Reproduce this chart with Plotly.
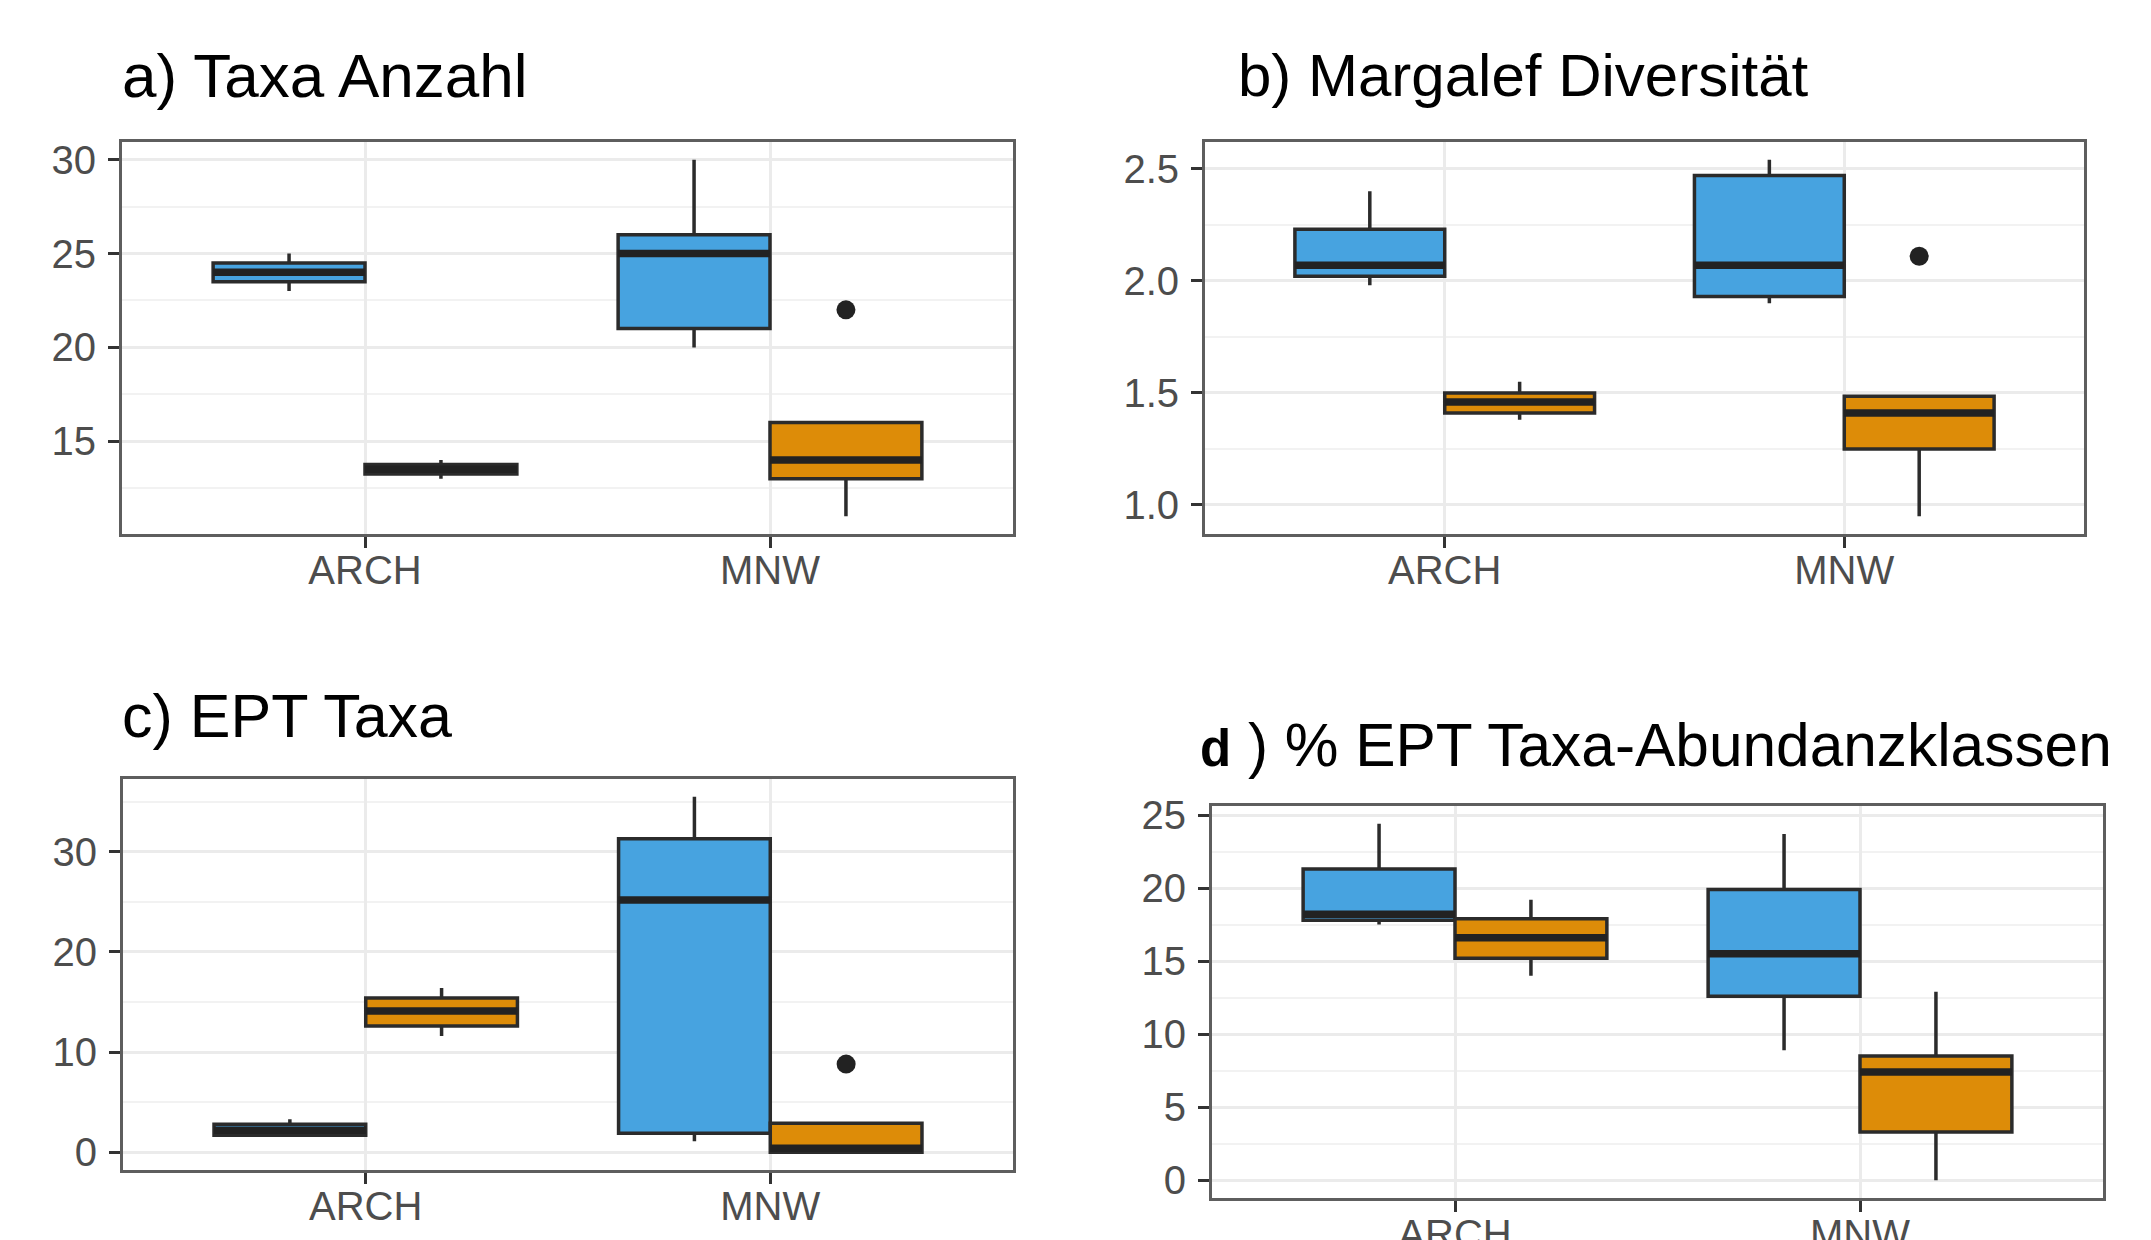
import plotly.graph_objects as go

# ---------------- data ----------------
categories = ["ARCH", "MNW"]
cat_pos = [1, 2]

# five-number summaries per category (ARCH, MNW): low whisker, q1, median, q3, high whisker
# a) Taxa Anzahl
a_blue = {"low": [23.0, 20.0], "q1": [23.5, 21.0], "med": [24.0, 25.0], "q3": [24.5, 26.0], "high": [25.0, 30.0]}
a_orange = {"low": [13.0, 11.0], "q1": [13.25, 13.0], "med": [13.5, 14.0], "q3": [13.75, 16.0], "high": [14.0, 16.0]}
a_blue_out = []
a_orange_out = [("MNW", 22.0)]

# b) Margalef Diversität
b_blue = {"low": [1.98, 1.90], "q1": [2.02, 1.93], "med": [2.07, 2.07], "q3": [2.23, 2.47], "high": [2.40, 2.54]}
b_orange = {"low": [1.38, 0.95], "q1": [1.41, 1.25], "med": [1.46, 1.41], "q3": [1.50, 1.485], "high": [1.55, 1.485]}
b_blue_out = []
b_orange_out = [("MNW", 2.11)]

# c) EPT Taxa
c_blue = {"low": [1.6, 1.1], "q1": [1.7, 1.9], "med": [2.2, 25.2], "q3": [2.8, 31.3], "high": [3.3, 35.5]}
c_orange = {"low": [11.6, 0.0], "q1": [12.6, 0.0], "med": [14.1, 0.4], "q3": [15.4, 2.9], "high": [16.4, 2.9]}
c_blue_out = []
c_orange_out = [("MNW", 8.8)]

# d) % EPT Taxa-Abundanzklassen
d_blue = {"low": [17.5, 8.9], "q1": [17.8, 12.6], "med": [18.2, 15.5], "q3": [21.3, 19.9], "high": [24.4, 23.7]}
d_orange = {"low": [14.0, 0.0], "q1": [15.2, 3.3], "med": [16.6, 7.4], "q3": [17.9, 8.5], "high": [19.2, 12.9]}
d_blue_out = []
d_orange_out = []

titles = ["a) Taxa Anzahl", "b) Margalef Diversität", "c) EPT Taxa",
          "<span style='font-size:51px'><b>d</b></span> ) % EPT Taxa-Abundanzklassen"]
y_dticks = [5, 0.5, 10, 5]
y_formats = ["d", ".1f", "d", "d"]

# ---------------- style ----------------
W, H = 2151, 1240
OFF = 8  # the page body adds an 8px margin; compensate so the picture lines up
BLUE = "#47A3E0"
ORANGE = "#DD8C08"
DARK = "#2B2B2B"
FONT = "Liberation Sans, Arial, sans-serif"

# panel pixel boxes in the picture: (left, right, top, bottom)
panel_px = [(122, 1013, 142, 534), (1205, 2084, 142, 534),
            (123, 1013, 779, 1170), (1212, 2103, 806, 1198)]
title_px = [(120, 76), (1236, 76), (120, 716), (1198, 745)]
title_sizes = [62, 60, 61, 60.4]

panels = [(a_blue, a_orange, a_blue_out, a_orange_out),
          (b_blue, b_orange, b_blue_out, b_orange_out),
          (c_blue, c_orange, c_blue_out, c_orange_out),
          (d_blue, d_orange, d_blue_out, d_orange_out)]

fig = go.Figure()
layout = dict(width=W, height=H, autosize=False,
              margin=dict(l=0, r=0, t=0, b=0, pad=0, autoexpand=False),
              paper_bgcolor="white", plot_bgcolor="white",
              showlegend=False, boxmode="overlay", annotations=[])

half = 0.1875
for i, (blue, orange, bout, oout) in enumerate(panels):
    k = "" if i == 0 else str(i + 1)
    xa, ya = "x" + k, "y" + k
    for stats, col, off in [(blue, BLUE, -half), (orange, ORANGE, half)]:
        fig.add_trace(go.Box(
            x=[p + off for p in cat_pos],
            q1=stats["q1"], median=stats["med"], q3=stats["q3"],
            lowerfence=stats["low"], upperfence=stats["high"],
            width=2 * half, whiskerwidth=0, boxpoints=False,
            fillcolor=col, line=dict(color=DARK, width=3.5),
            xaxis=xa, yaxis=ya, hoverinfo="skip", showlegend=False))
        mx, my = [], []
        for p, m in zip(cat_pos, stats["med"]):
            mx += [p + off - half, p + off + half, None]
            my += [m, m, None]
        fig.add_trace(go.Scatter(x=mx, y=my, mode="lines",
                                 line=dict(color="#222222", width=7.5),
                                 xaxis=xa, yaxis=ya, hoverinfo="skip", showlegend=False))
    for outs, off in [(bout, -half), (oout, half)]:
        if outs:
            fig.add_trace(go.Scatter(
                x=[cat_pos[categories.index(c)] + off for c, v in outs],
                y=[v for c, v in outs], mode="markers",
                marker=dict(color="#222222", size=19),
                xaxis=xa, yaxis=ya, hoverinfo="skip", showlegend=False))

    # ggplot-like 5% expansion of the y range
    vals = blue["low"] + blue["high"] + orange["low"] + orange["high"] + \
        [v for c, v in bout] + [v for c, v in oout]
    lo, hi = min(vals), max(vals)
    pad = 0.05 * (hi - lo)

    l, r, t, b = [v - OFF for v in panel_px[i]]
    axis_common = dict(showline=True, linecolor="#5E5E5E", linewidth=3, mirror=True,
                       ticks="outside", ticklen=11, tickwidth=3, tickcolor="#333333",
                       tickfont=dict(family=FONT, size=40, color="#4D4D4D"),
                       zeroline=False, showgrid=True, gridcolor="#EBEBEB", gridwidth=3,
                       fixedrange=True, automargin=False)
    layout["xaxis" + k] = dict(axis_common, domain=[l / W, r / W], anchor=ya,
                               range=[0.4, 2.6], tickvals=cat_pos, ticktext=categories,
                               ticklabelstandoff=-12)
    layout["yaxis" + k] = dict(axis_common, domain=[1 - b / H, 1 - t / H], anchor=xa,
                               range=[lo - pad, hi + pad], dtick=y_dticks[i], tick0=0,
                               tickformat=y_formats[i], ticklabelstandoff=4,
                               minor=dict(dtick=y_dticks[i] / 2, showgrid=True,
                                          gridcolor="#F2F2F2", gridwidth=2, ticklen=0))
    tx, ty = title_px[i]
    layout["annotations"].append(dict(
        text=titles[i], xref="paper", yref="paper", x=(tx - OFF) / W, y=1 - (ty - OFF) / H,
        xanchor="left", yanchor="middle", showarrow=False,
        font=dict(family=FONT, size=title_sizes[i], color="black")))

fig.update_layout(**layout)
fig.write_html("out.html")
